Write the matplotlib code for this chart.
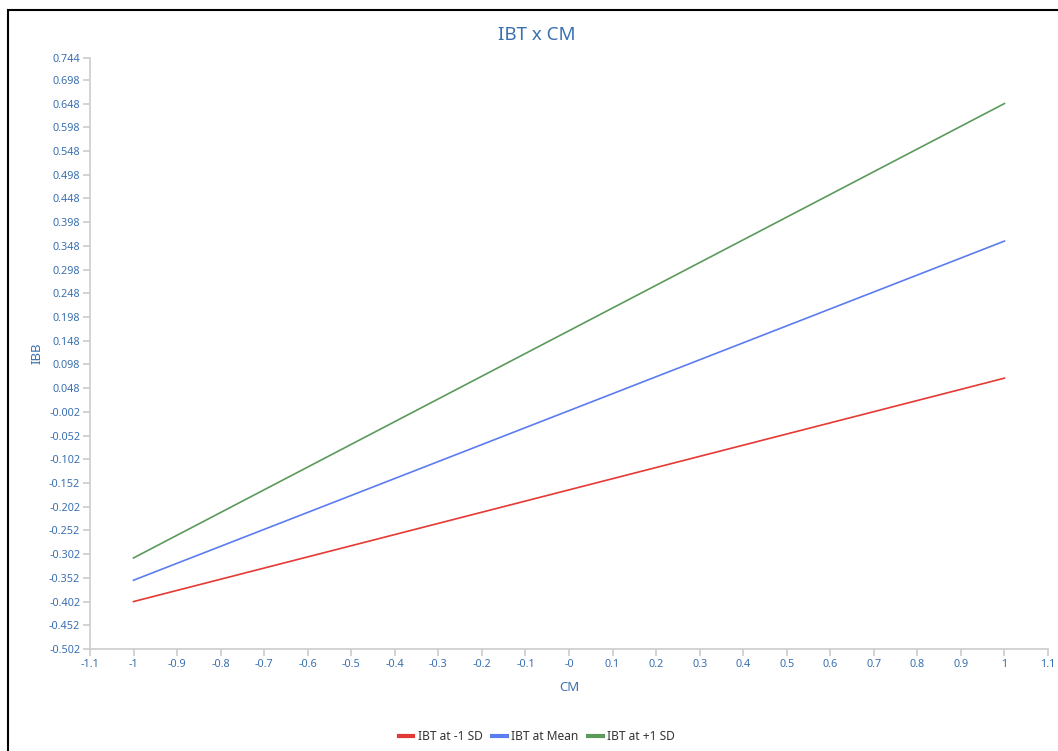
import matplotlib.pyplot as plt
from matplotlib.patches import Rectangle

# data
cm = [-1, 1]
ibt_low = [-0.402, 0.069]
ibt_mean = [-0.357, 0.358]
ibt_high = [-0.310, 0.648]

x_ticks = [-1.1, -1.0, -0.9, -0.8, -0.7, -0.6, -0.5, -0.4, -0.3, -0.2, -0.1,
           0.0, 0.1, 0.2, 0.3, 0.4, 0.5, 0.6, 0.7, 0.8, 0.9, 1.0, 1.1]
x_labels = ["-1.1", "-1", "-0.9", "-0.8", "-0.7", "-0.6", "-0.5", "-0.4", "-0.3",
            "-0.2", "-0.1", "-0", "0.1", "0.2", "0.3", "0.4", "0.5", "0.6",
            "0.7", "0.8", "0.9", "1", "1.1"]
y_ticks = [-0.502, -0.452, -0.402, -0.352, -0.302, -0.252, -0.202, -0.152,
           -0.102, -0.052, -0.002, 0.048, 0.098, 0.148, 0.198, 0.248, 0.298,
           0.348, 0.398, 0.448, 0.498, 0.548, 0.598, 0.648, 0.698, 0.744]

text_col = "#3a70b0"
axis_col = "#cccccc"

plt.rcParams["font.family"] = ["Noto Sans", "DejaVu Sans"]

fig = plt.figure(figsize=(10.58, 7.51), dpi=100)
ax = fig.add_axes([90 / 1058, 102 / 751, 958 / 1058, 591 / 751])

ax.plot(cm, ibt_low, color="#e53935", lw=1.2, label="IBT at -1 SD")
ax.plot(cm, ibt_mean, color="#5c7cf0", lw=1.2, label="IBT at Mean")
ax.plot(cm, ibt_high, color="#5b9a5b", lw=1.2, label="IBT at +1 SD")

ax.set_xlim(-1.1, 1.1)
ax.set_ylim(-0.502, 0.744)
ax.set_xticks(x_ticks)
ax.set_xticklabels(x_labels)
ax.set_yticks(y_ticks)
ax.set_yticklabels([f"{v:.3f}" for v in y_ticks])

for s in ["top", "right"]:
    ax.spines[s].set_visible(False)
for s in ["left", "bottom"]:
    ax.spines[s].set_color(axis_col)
    ax.spines[s].set_linewidth(1.2)
ax.tick_params(colors=axis_col, labelcolor=text_col, labelsize=7.8, length=5, width=1.2, pad=2)

ax.set_xlabel("CM", color=text_col, fontsize=9.5, labelpad=8)
ax.set_ylabel("IBB", color=text_col, fontsize=9.5, labelpad=4)
# title is centred on the whole chart, not on the plot area
fig.text(537 / 1058, 1 - 35 / 751, "IBT x CM", color=text_col, fontsize=13.5,
         ha="center", va="center")

leg = fig.legend(loc="center", ncol=3, frameon=False, fontsize=8.6,
                 handlelength=1.2, handletextpad=0.4, columnspacing=0.8,
                 labelcolor="#333333",
                 bbox_to_anchor=(537 / 1058, 1 - 737 / 751))
for line in leg.get_lines():
    line.set_linewidth(3)

# outer frame (partly cut off, as in the screenshot)
fig.patches.append(Rectangle((8 / 1058, -0.1), 1.2, 1 - 10 / 751 + 0.1,
                             transform=fig.transFigure, fill=False,
                             edgecolor="black", lw=1.5))

fig.savefig("out.png", dpi=100)
